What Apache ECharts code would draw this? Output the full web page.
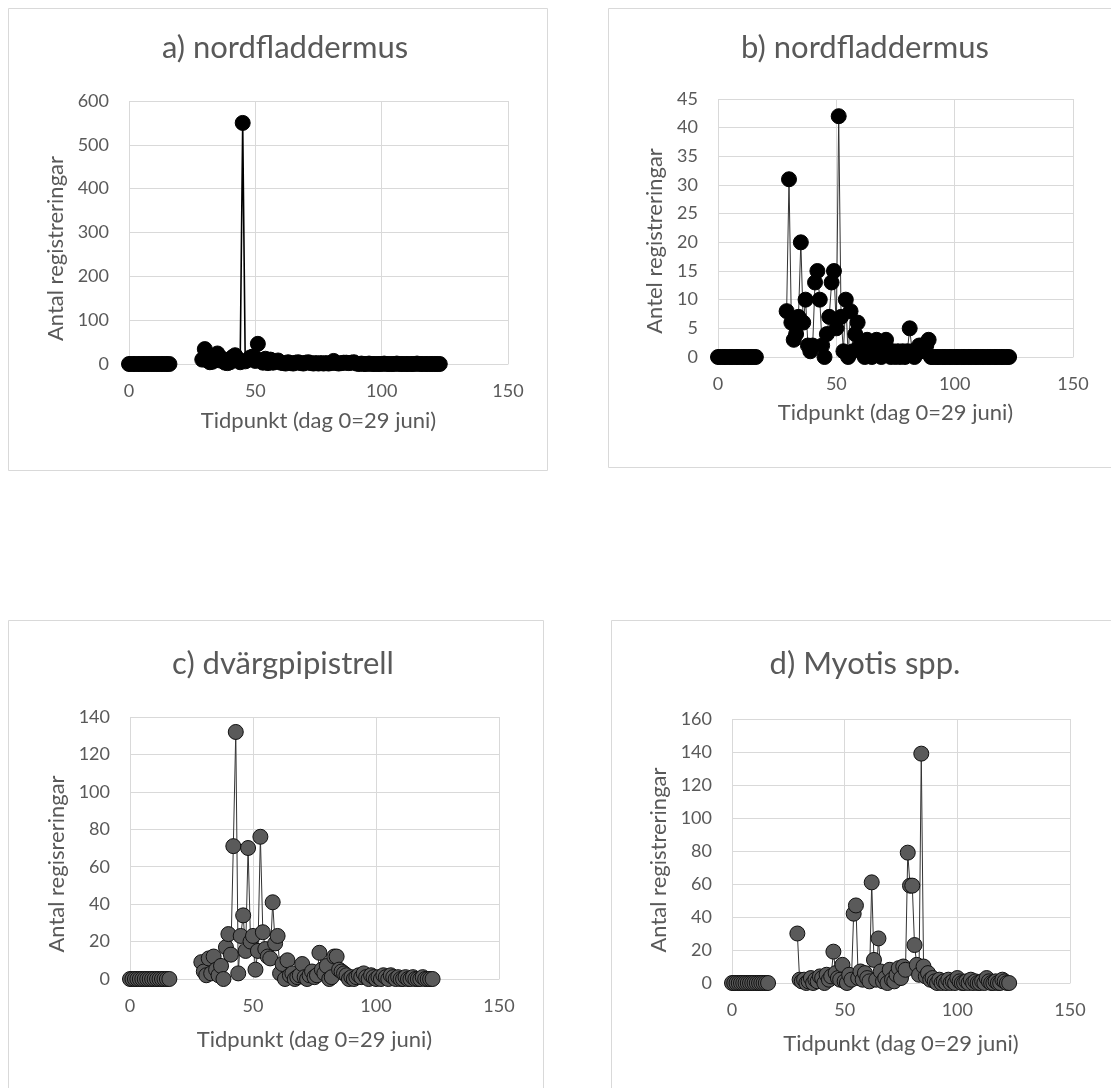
<!DOCTYPE html>
<html>
<head>
<meta charset="utf-8">
<script src="https://cdn.jsdelivr.net/npm/echarts@6/dist/echarts.min.js"></script>
<style>
  html, body { margin: 0; padding: 0; background: #ffffff; }
  #chart { width: 1111px; height: 1088px; }
</style>
</head>
<body>
<div id="chart"></div>
<script>
// Nights with recordings before the gap (day 0 = 29 June)
const earlyDays = [0, 1, 2, 3, 4, 5, 6, 7, 8, 9, 10, 11, 12, 13, 14, 15, 16];
// Nights with recordings after the gap
const lateDays = [
  29, 30, 31, 32, 33, 34, 35, 36, 37, 38,
  39, 40, 41, 42, 43, 44, 45, 46, 47, 48,
  49, 50, 51, 52, 53, 54, 55, 56, 57, 58,
  59, 60, 61, 62, 63, 64, 65, 66, 67, 68,
  69, 70, 71, 72, 73, 74, 75, 76, 77, 78,
  79, 80, 81, 82, 83, 84, 85, 86, 87, 88,
  89, 90, 91, 92, 93, 94, 95, 96, 97, 98,
  99, 100, 101, 102, 103, 104, 105, 106, 107, 108,
  109, 110, 111, 112, 113, 114, 115, 116, 117, 118,
  119, 120, 121, 122, 123
];

// Counts during the early nights (no activity recorded)
const earlyA = [0, 0, 0, 0, 0, 0, 0, 0, 0, 0, 0, 0, 0, 0, 0, 0, 0];
const earlyB = [0, 0, 0, 0, 0, 0, 0, 0, 0, 0, 0, 0, 0, 0, 0, 0, 0];
const earlyC = [0, 0, 0, 0, 0, 0, 0, 0, 0, 0, 0, 0, 0, 0, 0, 0, 0];
const earlyD = [0, 0, 0, 0, 0, 0, 0, 0, 0, 0, 0, 0, 0, 0, 0, 0, 0];

// a) nordfladdermus
const lateA = [
  10, 34, 8, 4, 5, 9, 24, 8, 12, 3,
  2, 4, 16, 20, 12, 4, 550, 6, 9, 15,
  17, 7, 46, 9, 3, 12, 2, 10, 3, 5,
  8, 3, 2, 1, 4, 2, 1, 3, 4, 2,
  1, 3, 4, 2, 1, 2, 1, 2, 1, 2,
  1, 2, 7, 2, 1, 2, 3, 3, 2, 3,
  4, 1, 0, 1, 0, 0, 1, 0, 0, 0,
  0, 0, 1, 0, 0, 0, 0, 1, 0, 0,
  0, 0, 0, 0, 0, 1, 0, 0, 0, 0,
  0, 0, 0, 0, 0
];
// b) nordfladdermus
const lateB = [
  8, 31, 6, 3, 4, 7, 20, 6, 10, 2,
  1, 2, 13, 15, 10, 2, 0, 4, 7, 13,
  15, 5, 42, 7, 1, 10, 0, 8, 1, 4,
  6, 2, 1, 0, 3, 1, 0, 2, 3, 1,
  0, 2, 3, 1, 0, 1, 0, 1, 0, 1,
  0, 1, 5, 1, 0, 1, 2, 2, 1, 2,
  3, 0, 0, 0, 0, 0, 0, 0, 0, 0,
  0, 0, 0, 0, 0, 0, 0, 0, 0, 0,
  0, 0, 0, 0, 0, 0, 0, 0, 0, 0,
  0, 0, 0, 0, 0
];
// c) dvärgpipistrell
const lateC = [
  9, 4, 2, 11, 3, 12, 5, 2, 7, 0,
  17, 24, 13, 71, 132, 3, 23, 34, 15, 70,
  20, 23, 5, 15, 76, 25, 16, 12, 11, 41,
  19, 23, 3, 8, 0, 10, 2, 3, 0, 1,
  2, 8, 1, 0, 2, 4, 1, 2, 14, 5,
  3, 7, 0, 1, 12, 12, 5, 4, 3, 2,
  0, 1, 0, 1, 2, 1, 3, 1, 0, 2,
  1, 0, 1, 0, 2, 1, 0, 2, 1, 0,
  1, 0, 0, 1, 0, 0, 1, 0, 0, 0,
  1, 0, 0, 0, 0
];
// d) Myotis spp.
const lateD = [
  30, 2, 1, 2, 0, 1, 3, 0, 2, 1,
  4, 3, 0, 5, 2, 4, 19, 6, 3, 2,
  11, 1, 0, 5, 2, 42, 47, 3, 7, 2,
  6, 3, 1, 61, 14, 2, 27, 7, 1, 3,
  0, 8, 2, 1, 5, 9, 3, 10, 8, 79,
  59, 59, 23, 11, 5, 139, 10, 4, 6, 2,
  3, 1, 0, 2, 0, 1, 0, 2, 0, 1,
  0, 3, 1, 0, 0, 1, 0, 2, 0, 1,
  0, 0, 1, 0, 3, 1, 0, 0, 1, 0,
  0, 2, 1, 0, 0
];

const xTicks = [0, 50, 100, 150];
const panelTitles = ['a) nordfladdermus', 'b) nordfladdermus', 'c) dvärgpipistrell', 'd) Myotis spp.'];
const yNames = ['Antal registreringar', 'Antel registreringar', 'Antal regisreringar', 'Antal registreringar'];
const xName = 'Tidpunkt (dag 0=29 juni)';
const yMax = [600, 45, 140, 160];
const yStep = [100, 5, 20, 20];

const FONT = 'Lato';
const TXT = '#595959';
const GRID = '#d9d9d9';

const panels = [
  { grid: { left: 129, top: 101, width: 379, height: 263 }, frame: [8, 8, 539, 462], title: [280, 27],
    xGap: 46, yGap: 62, yShift: 32,
    early: earlyA, late: lateA, fill: '#000000', border: '#000000', line: '#000000', lw: 1.6 },
  { grid: { left: 718, top: 99, width: 355, height: 258 }, frame: [608, 8, 510, 459], title: [860, 27],
    xGap: 45, yGap: 52, yShift: 26,
    early: earlyB, late: lateB, fill: '#000000', border: '#000000', line: '#333333', lw: 1 },
  { grid: { left: 130, top: 717, width: 369, height: 262 }, frame: [8, 620, 535, 480], title: [278, 643],
    xGap: 50, yGap: 62, yShift: 32,
    early: earlyC, late: lateC, fill: '#5a5a5a', border: '#111111', line: '#333333', lw: 1 },
  { grid: { left: 732, top: 719, width: 338, height: 264 }, frame: [611, 620, 510, 480], title: [860, 643],
    xGap: 50, yGap: 62, yShift: 18,
    early: earlyD, late: lateD, fill: '#5a5a5a', border: '#111111', line: '#333333', lw: 1 }
];

const pair = (xs, ys) => xs.map((x, i) => [x, ys[i]]);

const option = {
  backgroundColor: '#ffffff',
  animation: false,
  graphic: panels.map(p => ({
    type: 'rect', silent: true, z: -10,
    shape: { x: p.frame[0] + 0.5, y: p.frame[1] + 0.5, width: p.frame[2], height: p.frame[3] },
    style: { fill: '#ffffff', stroke: GRID, lineWidth: 1 }
  })),
  title: panels.map((p, i) => ({
    text: panelTitles[i],
    left: p.title[0], top: p.title[1], textAlign: 'center',
    textStyle: { fontFamily: FONT, fontSize: 31, fontWeight: 'normal', color: TXT }
  })),
  grid: panels.map(p => Object.assign({ containLabel: false }, p.grid)),
  xAxis: panels.map((p, i) => ({
    type: 'value', gridIndex: i, min: xTicks[0], max: xTicks[xTicks.length - 1], interval: 50,
    name: xName, nameLocation: 'middle', nameGap: p.xGap,
    nameTextStyle: { fontFamily: FONT, fontSize: 22, color: TXT },
    axisLine: { show: true, lineStyle: { color: GRID, width: 1 } },
    axisTick: { show: false },
    axisLabel: { fontFamily: FONT, fontSize: 18, color: TXT, margin: 18 },
    splitLine: { show: true, lineStyle: { color: GRID, width: 1 } }
  })),
  yAxis: panels.map((p, i) => ({
    type: 'value', gridIndex: i, min: 0, max: yMax[i], interval: yStep[i],
    name: yNames[i], nameLocation: 'middle', nameGap: p.yGap,
    nameTextStyle: { fontFamily: FONT, fontSize: 22, color: TXT, padding: [0, p.yShift, 0, 0] },
    axisLine: { show: false },
    axisTick: { show: false },
    axisLabel: { fontFamily: FONT, fontSize: 18, color: TXT, margin: 20 },
    splitLine: { show: true, lineStyle: { color: GRID, width: 1 } }
  })),
  series: panels.flatMap((p, i) => [p.early, p.late].map((vals, k) => ({
    type: 'line', xAxisIndex: i, yAxisIndex: i,
    data: pair(k === 0 ? earlyDays : lateDays, vals),
    symbol: 'circle', symbolSize: 15,
    lineStyle: { color: p.line, width: p.lw },
    itemStyle: { color: p.fill, borderColor: p.border, borderWidth: 1 },
    emphasis: { disabled: true }
  })))
};

const chart = echarts.init(document.getElementById('chart'), null, { renderer: 'canvas' });
chart.setOption(option);
</script>
</body>
</html>
